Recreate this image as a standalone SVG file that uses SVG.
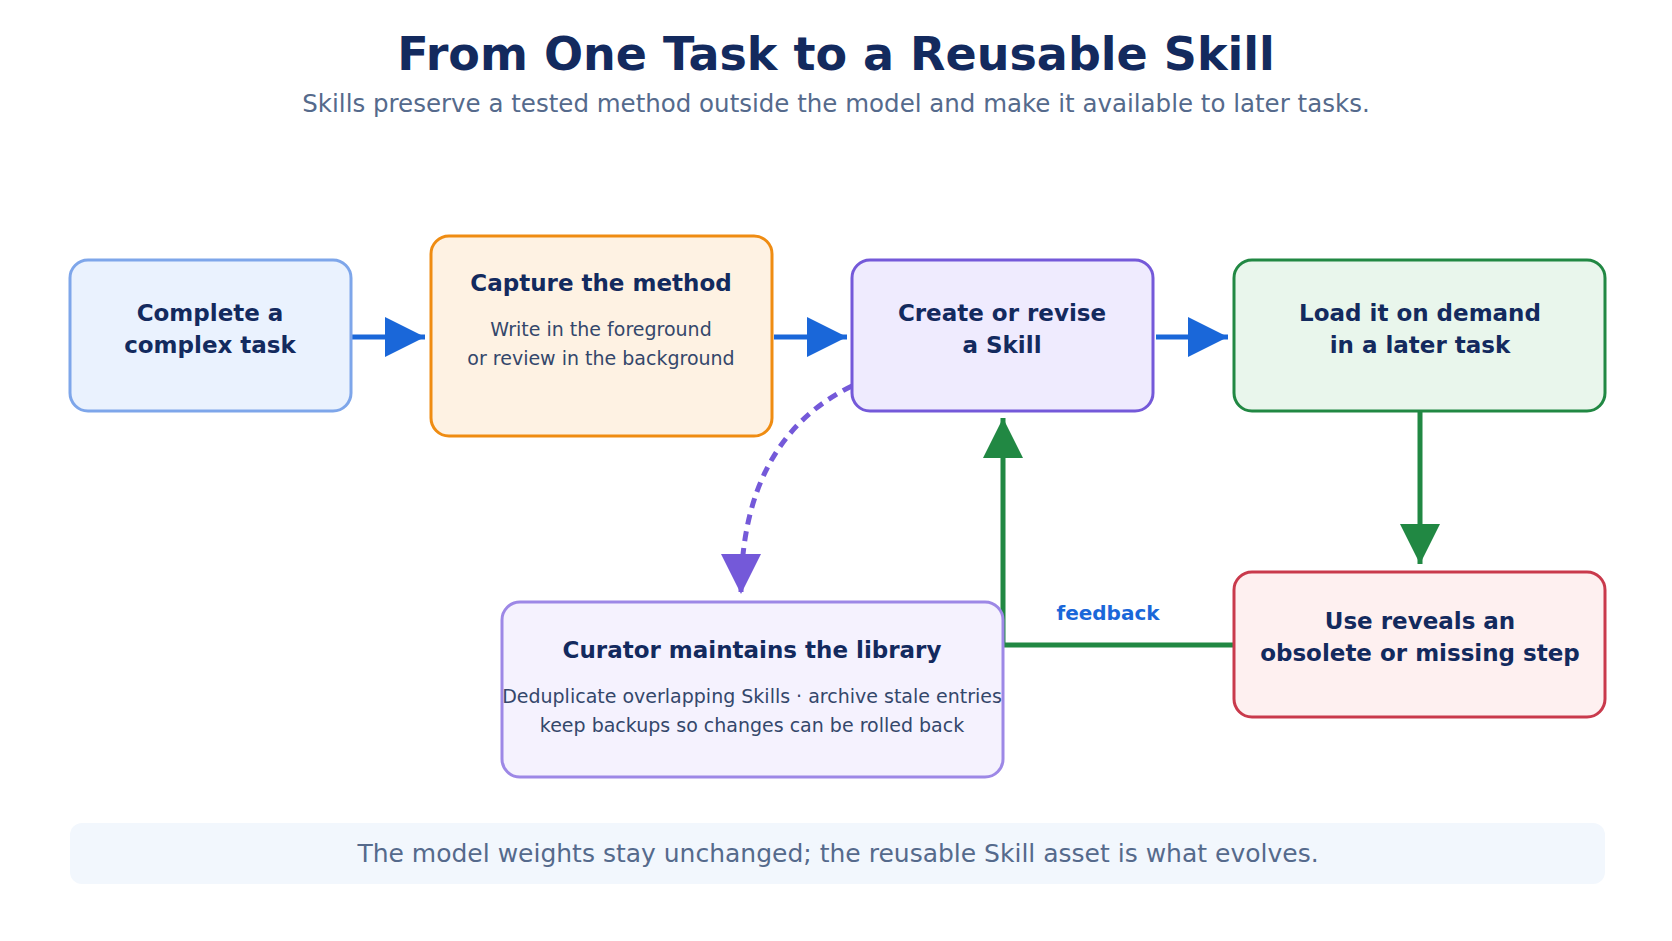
<svg xmlns="http://www.w3.org/2000/svg" width="1672" height="941" viewBox="0 0 1672 941">
<style>
text{font-family:"DejaVu Sans","Noto Sans",sans-serif;text-anchor:middle}
.t{font-size:23px;font-weight:bold;fill:#132a5e}
.s{font-size:19px;fill:#34476b}
.b{stroke-width:3}
</style>
<defs>
<marker id="ab" viewBox="0 0 10 10" refX="10" refY="5" markerWidth="40" markerHeight="40" markerUnits="userSpaceOnUse" orient="auto"><path d="M0,0L10,5L0,10z" fill="#1a67d9"/></marker>
<marker id="ag" viewBox="0 0 10 10" refX="10" refY="5" markerWidth="40" markerHeight="40" markerUnits="userSpaceOnUse" orient="auto"><path d="M0,0L10,5L0,10z" fill="#218843"/></marker>
<marker id="ap" viewBox="0 0 10 10" refX="10" refY="5" markerWidth="40" markerHeight="40" markerUnits="userSpaceOnUse" orient="auto"><path d="M0,0L10,5L0,10z" fill="#7459d9"/></marker>
</defs>
<rect width="1672" height="941" fill="#fff"/>
<text x="836" y="70" style="font-size:46px;font-weight:bold;fill:#132a5e">From One Task to a Reusable Skill</text>
<text x="836" y="112" style="font-size:24.5px;fill:#556a8c">Skills preserve a tested method outside the model and make it available to later tasks.</text>
<g id="connectors">
<path d="M352,337H425" stroke="#1a67d9" stroke-width="5" fill="none" marker-end="url(#ab)"/>
<path d="M774,337H847" stroke="#1a67d9" stroke-width="5" fill="none" marker-end="url(#ab)"/>
<path d="M1156,337H1228" stroke="#1a67d9" stroke-width="5" fill="none" marker-end="url(#ab)"/>
<path d="M1420,412V564" stroke="#218843" stroke-width="5" fill="none" marker-end="url(#ag)"/>
<path d="M1234,645H1003V418" stroke="#218843" stroke-width="5" fill="none" marker-end="url(#ag)"/>
<path d="M852,386Q741,440 741,594" stroke="#7459d9" stroke-width="5" stroke-dasharray="10,7" fill="none" marker-end="url(#ap)"/>
<text x="1108" y="620" style="font-size:20px;font-weight:bold;fill:#1a67d9">feedback</text>
</g>
<g id="complete"><rect x="70" y="260" width="281" height="151" rx="18" fill="#eaf2fe" stroke="#7ea6ea" class="b"/>
<text class="t" x="210" y="321">Complete a</text><text class="t" x="210" y="353">complex task</text></g>
<g id="capture"><rect x="431" y="236" width="341" height="200" rx="18" fill="#fef2e3" stroke="#ef8c12" class="b"/>
<text class="t" x="601" y="291">Capture the method</text><text class="s" x="601" y="336">Write in the foreground</text><text class="s" x="601" y="365">or review in the background</text></g>
<g id="create"><rect x="852" y="260" width="301" height="151" rx="18" fill="#efebfe" stroke="#7459d9" class="b"/>
<text class="t" x="1002" y="321">Create or revise</text><text class="t" x="1002" y="353">a Skill</text></g>
<g id="load"><rect x="1234" y="260" width="371" height="151" rx="18" fill="#e9f6ec" stroke="#218843" class="b"/>
<text class="t" x="1420" y="321">Load it on demand</text><text class="t" x="1420" y="353">in a later task</text></g>
<g id="use"><rect x="1234" y="572" width="371" height="145" rx="18" fill="#fef0f0" stroke="#c93a4c" class="b"/>
<text class="t" x="1420" y="629">Use reveals an</text><text class="t" x="1420" y="661">obsolete or missing step</text></g>
<g id="curator"><rect x="502" y="602" width="501" height="175" rx="18" fill="#f5f2fe" stroke="#9d88e6" class="b"/>
<text class="t" x="752" y="658">Curator maintains the library</text><text class="s" x="752" y="703">Deduplicate overlapping Skills · archive stale entries</text><text class="s" x="752" y="732">keep backups so changes can be rolled back</text></g>
<g id="footer"><rect x="70" y="823" width="1535" height="61" rx="12" fill="#f2f7fd"/>
<text x="838" y="862" style="font-size:25px;fill:#556a8c">The model weights stay unchanged; the reusable Skill asset is what evolves.</text></g>
</svg>
